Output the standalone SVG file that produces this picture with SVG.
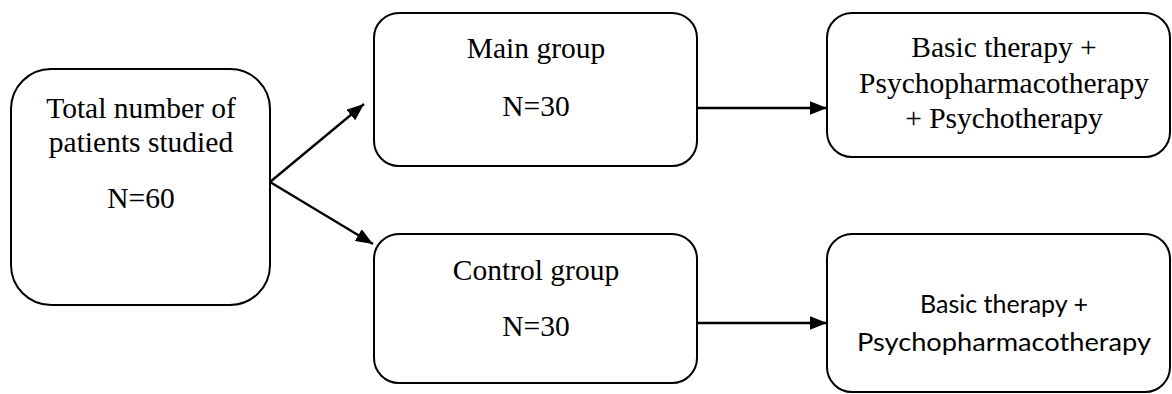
<svg xmlns="http://www.w3.org/2000/svg" width="1172" height="394" viewBox="0 0 1172 394">
<style>
.box{fill:#fff;stroke:#000;stroke-width:2}
.t{font-family:"Liberation Serif","Times New Roman",serif;font-size:29.5px;text-anchor:middle;fill:#000}
.s{font-family:Lato,"Liberation Sans",sans-serif;font-size:25px;text-anchor:middle;fill:#000}
.c{stroke:#000;stroke-width:2.3;fill:none;marker-end:url(#ah)}
</style>
<defs>
<marker id="ah" viewBox="0 0 10 8" refX="10" refY="4" markerWidth="7.5" markerHeight="6" markerUnits="strokeWidth" orient="auto">
<path d="M0,0 L10,4 L0,8 z" fill="#000"/>
</marker>
</defs>
<rect width="1172" height="394" fill="#fff"/>
<g id="connectors">
<line class="c" x1="270" y1="182" x2="364" y2="104"/>
<line class="c" x1="270" y1="182" x2="373" y2="244"/>
<line class="c" x1="697" y1="108" x2="827" y2="108"/>
<line class="c" x1="697" y1="323" x2="827" y2="323"/>
</g>
<g id="total">
<rect class="box" x="11" y="69" width="259" height="236" rx="40" ry="40"/>
<text class="t" x="141" y="118">Total number of</text>
<text class="t" x="141" y="152">patients studied</text>
<text class="t" x="141" y="208">N=60</text>
</g>
<g id="main">
<rect class="box" x="374" y="13" width="323" height="153" rx="25" ry="25"/>
<text class="t" x="536" y="58">Main group</text>
<text class="t" x="536" y="116">N=30</text>
</g>
<g id="control">
<rect class="box" x="374" y="234" width="323" height="149" rx="25" ry="25"/>
<text class="t" x="536" y="280">Control group</text>
<text class="t" x="536" y="336">N=30</text>
</g>
<g id="therapy1">
<rect class="box" x="827" y="13" width="343" height="144" rx="25" ry="25"/>
<text class="t" x="1004" y="57">Basic therapy +</text>
<text class="t" x="1004" y="93">Psychopharmacotherapy</text>
<text class="t" x="1004" y="128">+ Psychotherapy</text>
</g>
<g id="therapy2">
<rect class="box" x="827" y="234" width="343" height="158" rx="25" ry="25"/>
<text class="s" x="1004" y="313">Basic therapy +</text>
<text class="s" x="1004" y="351" textLength="294" lengthAdjust="spacingAndGlyphs">Psychopharmacotherapy</text>
</g>
</svg>
